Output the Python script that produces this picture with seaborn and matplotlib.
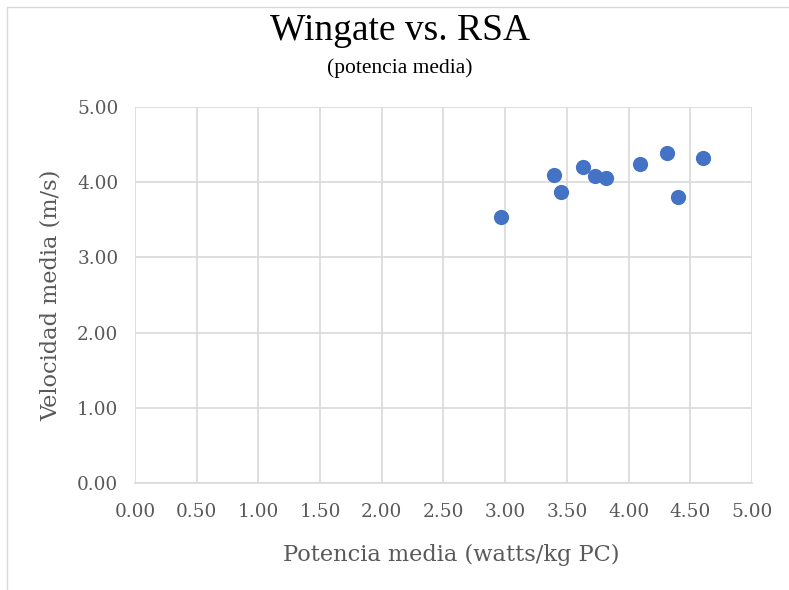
import matplotlib
matplotlib.use("Agg")
import matplotlib.pyplot as plt
from matplotlib.patches import Rectangle
import seaborn as sns
import pandas as pd
import numpy as np

# Mean power (W/kg body mass) in Wingate vs. mean speed in RSA
potencia = [2.97, 3.40, 3.45, 3.63, 3.73, 3.82, 4.09, 4.31, 4.40, 4.60]
velocidad = [3.53, 4.10, 3.87, 4.20, 4.08, 4.05, 4.24, 4.38, 3.80, 4.32]

x_ticks = np.arange(0, 5.01, 0.5)
y_ticks = np.arange(0, 5.01, 1.0)

df = pd.DataFrame({"potencia": potencia, "velocidad": velocidad})

sns.set_theme(style="white")
plt.rcParams["font.family"] = ["Liberation Serif", "DejaVu Serif"]

fig = plt.figure(figsize=(7.89, 5.90), dpi=100)
ax = fig.add_axes([0.171, 0.181, 0.782, 0.638])

grid_col = "#D9D9D9"
text_col = "#595959"
axis_font = "DejaVu Serif"

sns.scatterplot(data=df, x="potencia", y="velocidad", ax=ax,
                color="#4472C4", s=120, edgecolor="#4472C4", linewidth=0,
                zorder=3, legend=False)

ax.set_xlim(0, 5)
ax.set_ylim(0, 5)
ax.set_xticks(x_ticks)
ax.set_yticks(y_ticks)
ax.set_xticklabels([f"{v:.2f}" for v in x_ticks], fontsize=13.3, color=text_col,
                   family=axis_font)
ax.set_yticklabels([f"{v:.2f}" for v in y_ticks], fontsize=13.3, color=text_col,
                   family=axis_font)
ax.tick_params(axis="x", length=0, pad=14)
ax.tick_params(axis="y", length=0, pad=12)
ax.grid(True, color=grid_col, linewidth=1.2)
ax.set_axisbelow(True)
for side in ["top", "right", "left"]:
    ax.spines[side].set_visible(False)
ax.spines["bottom"].set_color(grid_col)
ax.spines["bottom"].set_linewidth(1.2)

ax.set_xlabel("Potencia media (watts/kg PC)", fontsize=16.2, color=text_col,
              family=axis_font)
ax.set_ylabel("Velocidad media (m/s)", fontsize=16.2, color=text_col,
              labelpad=11, family=axis_font)
ax.xaxis.set_label_coords(0.512, -0.162)

fig.text(0.507, 0.948, "Wingate vs. RSA", ha="center", va="center",
         fontsize=27, color="#000000")
fig.text(0.507, 0.885, "(potencia media)", ha="center", va="center",
         fontsize=15.5, color="#000000")

# Light chart-area border
fig.patches.append(Rectangle((0.009, -0.01), 1.0, 0.998, transform=fig.transFigure,
                             fill=False, edgecolor="#D9D9D9", linewidth=1.0))

fig.savefig("out.png", dpi=100, facecolor="white")
